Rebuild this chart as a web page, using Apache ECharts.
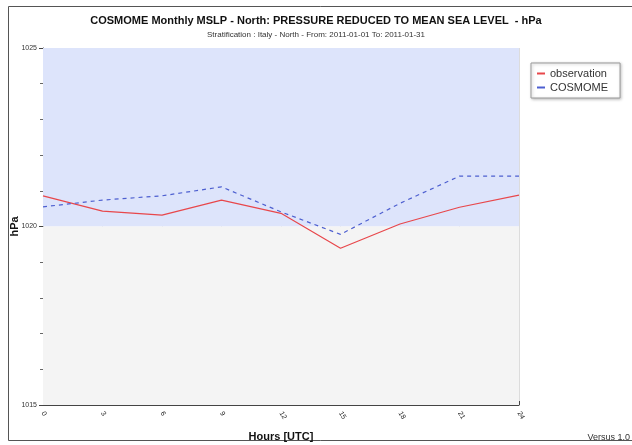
<!DOCTYPE html>
<html>
<head>
<meta charset="utf-8">
<script src="https://cdn.jsdelivr.net/npm/echarts@6/dist/echarts.min.js"></script>
<style>
  html, body { margin: 0; padding: 0; background: #fff; }
  #chart { width: 632px; height: 445px; }
</style>
</head>
<body>
<div id="chart"></div>
<script>
const hours = [0, 3, 6, 9, 12, 15, 18, 21, 24]
const observation = [1020.86, 1020.43, 1020.32, 1020.74, 1020.37, 1019.39, 1020.07, 1020.54, 1020.88]
const cosmome = [1020.55, 1020.74, 1020.86, 1021.11, 1020.41, 1019.78, 1020.65, 1021.41, 1021.41]
const bands = [[1020, 1025, '#dde4fb'], [1015, 1020, '#f4f4f4']]

const font = 'Liberation Sans, Arial, sans-serif'
const chart = echarts.init(document.getElementById('chart'))

chart.setOption({
  animation: false,
  backgroundColor: '#fff',
  title: {
    text: 'COSMOME Monthly MSLP - North: PRESSURE REDUCED TO MEAN SEA LEVEL  - hPa',
    subtext: 'Stratification : Italy - North - From: 2011-01-01 To: 2011-01-31',
    left: 'center',
    top: 10,
    itemGap: 5,
    textStyle: { fontFamily: font, fontSize: 11, fontWeight: 'bold', color: '#111' },
    subtextStyle: { fontFamily: font, fontSize: 8, color: '#333' }
  },
  grid: { left: 43, right: 113, top: 48, bottom: 40, outerBoundsMode: 'none' },
  legend: {
    orient: 'vertical',
    left: 531,
    top: 63,
    padding: [5, 12, 5, 6],
    itemGap: 3,
    itemWidth: 8,
    itemHeight: 2,
    icon: 'rect',
    borderColor: '#999',
    borderWidth: 1,
    backgroundColor: '#fff',
    shadowColor: 'rgba(0,0,0,0.25)',
    shadowBlur: 3,
    shadowOffsetX: 1,
    shadowOffsetY: 1,
    textStyle: { fontFamily: font, fontSize: 11, color: '#333' },
    data: ['observation', 'COSMOME']
  },
  xAxis: {
    type: 'value',
    min: 0,
    max: 24,
    interval: 3,
    name: 'Hours [UTC]',
    nameLocation: 'middle',
    nameGap: 26,
    nameTextStyle: { fontFamily: font, fontSize: 11, fontWeight: 'bold', color: '#111' },
    axisLine: { lineStyle: { color: '#444' } },
    axisTick: { inside: true, length: 4, lineStyle: { color: '#444' } },
    axisLabel: { rotate: -60, fontSize: 7, fontFamily: font, color: '#222', margin: 7 },
    splitLine: { show: true, lineStyle: { color: '#dcdcdc' } }
  },
  yAxis: {
    type: 'value',
    min: 1015,
    max: 1025,
    interval: 5,
    name: 'hPa',
    nameLocation: 'middle',
    nameGap: 23,
    nameMoveOverlap: false,
    nameRotate: 90,
    nameTextStyle: { fontFamily: font, fontSize: 11, fontWeight: 'bold', color: '#111' },
    axisLine: { show: true, lineStyle: { color: '#444' } },
    axisTick: { length: 4, lineStyle: { color: '#444' } },
    minorTick: { show: true, splitNumber: 5, length: 3, lineStyle: { color: '#666' } },
    axisLabel: { fontSize: 7, fontFamily: font, color: '#333', margin: 6, formatter: v => String(v) },
    splitLine: { show: false }
  },
  series: [
    {
      name: 'observation',
      type: 'line',
      symbol: 'none',
      data: hours.map((h, i) => [h, observation[i]]),
      lineStyle: { color: '#e8474b', width: 1.2 },
      itemStyle: { color: '#e8474b' },
      z: 3,
      markArea: {
        silent: true,
        data: bands.map(b => [
          { yAxis: b[0], itemStyle: { color: b[2] } },
          { yAxis: b[1] }
        ])
      }
    },
    {
      name: 'COSMOME',
      type: 'line',
      symbol: 'none',
      data: hours.map((h, i) => [h, cosmome[i]]),
      lineStyle: { color: '#4d5fd0', width: 1.2, type: [4, 4] },
      itemStyle: { color: '#4d5fd0' },
      z: 4
    }
  ],
  graphic: [
    {
      type: 'rect',
      shape: { x: 8.5, y: 6.5, width: 630, height: 434 },
      style: { fill: 'none', stroke: '#555', lineWidth: 1 },
      silent: true
    },
    {
      type: 'text',
      right: 2,
      top: 433,
      style: { text: 'Versus 1.0', fontFamily: font, fontSize: 9, fill: '#333' }
    }
  ]
})
</script>
</body>
</html>
